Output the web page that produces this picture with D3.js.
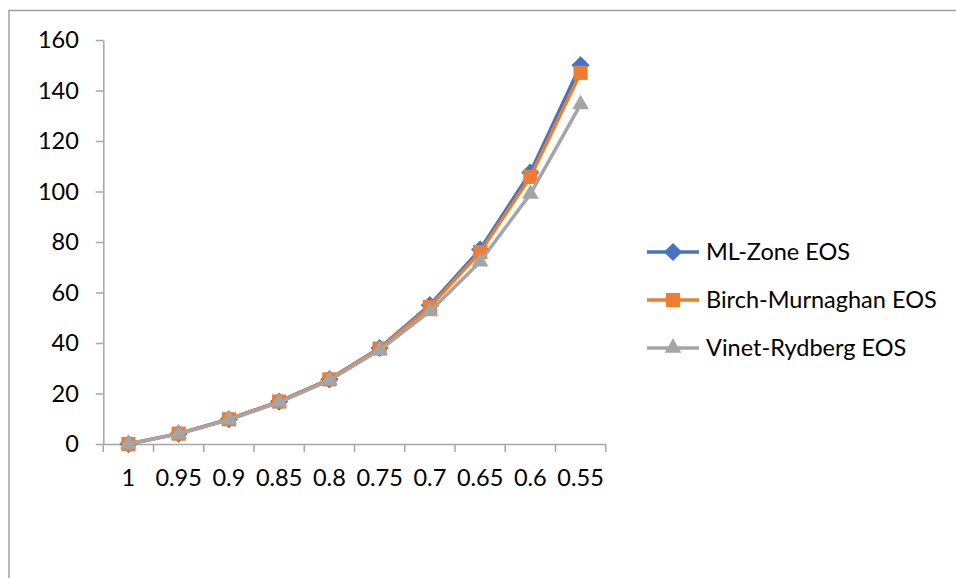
<!DOCTYPE html>
<html>
<head>
<meta charset="utf-8">
<script src="https://cdn.jsdelivr.net/npm/d3@7/dist/d3.min.js"></script>
<style>
  html, body { margin: 0; padding: 0; background: #fff; }
  svg { display: block; }
  text { font-family: Lato, "Open Sans", sans-serif; fill: #000; }
</style>
</head>
<body>
<svg id="chart" width="956" height="578"></svg>
<script>
const categories = ["1", "0.95", "0.9", "0.85", "0.8", "0.75", "0.7", "0.65", "0.6", "0.55"];
const mlZone = [0, 4.1, 9.8, 16.8, 25.6, 38.0, 55.0, 77.0, 107.5, 150.0];
const birchMurnaghan = [0, 4.1, 9.8, 16.8, 25.6, 37.8, 54.3, 76.0, 105.8, 147.0];
const vinetRydberg = [0, 4.0, 9.6, 16.5, 25.2, 37.2, 52.5, 72.2, 99.0, 134.5];
const yTicks = [0, 20, 40, 60, 80, 100, 120, 140, 160];
const seriesNames = ["ML-Zone EOS", "Birch-Murnaghan EOS", "Vinet-Rydberg EOS"];

const series = [
  { name: seriesNames[0], values: mlZone, color: "#4472C4", symbol: d3.symbolDiamond2, size: 210 },
  { name: seriesNames[1], values: birchMurnaghan, color: "#ED7D31", symbol: d3.symbolSquare2, size: 256 },
  { name: seriesNames[2], values: vinetRydberg, color: "#A5A5A5", symbol: d3.symbolTriangle2, size: 200 }
];

const svg = d3.select("#chart");
const fontSize = 23.5;

// outer frame (extends beyond the viewport on right and bottom)
svg.append("path")
  .attr("d", "M9,600 L9,10.5 L980,10.5")
  .attr("fill", "none")
  .attr("stroke", "#a0a0a0")
  .attr("stroke-width", 1.5);

const plot = { left: 103.3, right: 605.7, top: 40, bottom: 444 };

const x = d3.scaleBand().domain(categories).range([plot.left, plot.right]).padding(0);
const y = d3.scaleLinear().domain([0, 160]).range([plot.bottom, plot.top]);

const axisColor = "#a6a6a6";

// Y axis
const yAxis = svg.append("g")
  .attr("transform", `translate(${plot.left},0)`)
  .call(d3.axisLeft(y).tickValues(yTicks).tickSize(7.5).tickPadding(17).tickSizeOuter(0));
yAxis.select(".domain").attr("stroke", axisColor).attr("stroke-width", 1.5);
yAxis.selectAll(".tick line").attr("stroke", axisColor).attr("stroke-width", 1.5);
yAxis.selectAll(".tick text")
  .attr("font-family", "Lato, 'Open Sans', sans-serif")
  .attr("font-size", fontSize)
  .attr("fill", "#000");

// X axis
const xAxis = svg.append("g")
  .attr("transform", `translate(0,${plot.bottom})`)
  .call(d3.axisBottom(x).tickSize(0).tickPadding(25).tickSizeOuter(0));
xAxis.select(".domain").attr("stroke", axisColor).attr("stroke-width", 1.5);
xAxis.selectAll(".tick text")
  .attr("font-family", "Lato, 'Open Sans', sans-serif")
  .attr("font-size", fontSize)
  .attr("fill", "#000");
// boundary tick marks between categories
const boundaries = categories.map(c => x(c)).concat([x(categories[categories.length - 1]) + x.bandwidth()]);
xAxis.selectAll("line.bound")
  .data(boundaries)
  .enter().append("line")
  .attr("class", "bound")
  .attr("x1", d => d).attr("x2", d => d)
  .attr("y1", 0).attr("y2", 8)
  .attr("stroke", axisColor).attr("stroke-width", 1.5);

const cx = c => x(c) + x.bandwidth() / 2;

const line = d3.line()
  .x((d, i) => cx(categories[i]))
  .y(d => y(d));

series.forEach(s => {
  const g = svg.append("g");
  g.append("path")
    .datum(s.values)
    .attr("d", line)
    .attr("fill", "none")
    .attr("stroke", s.color)
    .attr("stroke-width", 3.5)
    .attr("stroke-linejoin", "round");
  g.selectAll("path.marker")
    .data(s.values)
    .enter().append("path")
    .attr("class", "marker")
    .attr("transform", (d, i) => `translate(${cx(categories[i])},${y(d)})`)
    .attr("d", d3.symbol().type(s.symbol).size(s.size)())
    .attr("fill", s.color);
});

// Legend
const legend = svg.append("g");
series.forEach((s, i) => {
  const ly = 252 + i * 48;
  legend.append("line")
    .attr("x1", 647).attr("x2", 699)
    .attr("y1", ly).attr("y2", ly)
    .attr("stroke", s.color).attr("stroke-width", 3.5);
  legend.append("path")
    .attr("transform", `translate(673,${ly})`)
    .attr("d", d3.symbol().type(s.symbol).size(s.size)())
    .attr("fill", s.color);
  legend.append("text")
    .attr("x", 706).attr("y", ly + 8)
    .attr("font-size", fontSize)
    .text(s.name);
});
</script>
</body>
</html>
